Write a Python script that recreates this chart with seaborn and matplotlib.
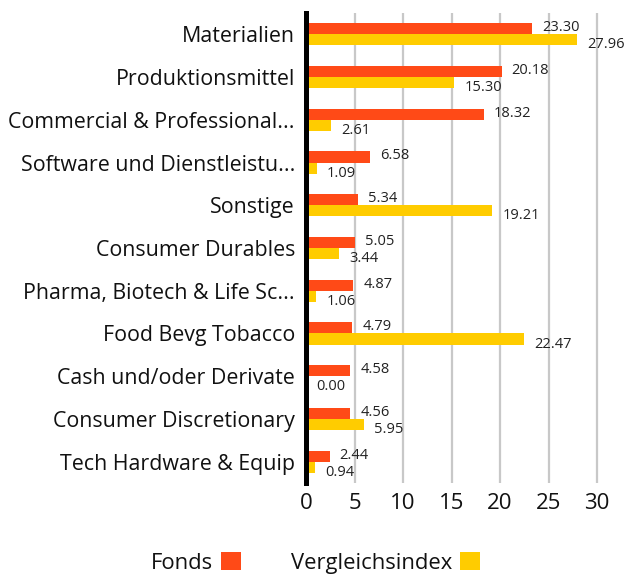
import matplotlib
matplotlib.use("Agg")
import matplotlib.pyplot as plt
import seaborn as sns
import pandas as pd
from matplotlib.patches import Patch

categories = [
    "Materialien",
    "Produktionsmittel",
    "Commercial & Professional...",
    "Software und Dienstleistu...",
    "Sonstige",
    "Consumer Durables",
    "Pharma, Biotech & Life Sc...",
    "Food Bevg Tobacco",
    "Cash und/oder Derivate",
    "Consumer Discretionary",
    "Tech Hardware & Equip",
]
fonds = [23.30, 20.18, 18.32, 6.58, 5.34, 5.05, 4.87, 4.79, 4.58, 4.56, 2.44]
vergleich = [27.96, 15.30, 2.61, 1.09, 19.21, 3.44, 1.06, 22.47, 0.00, 5.95, 0.94]
series_names = ["Fonds", "Vergleichsindex"]
colors = ["#FF4A17", "#FFCC00"]
x_ticks = [0, 5, 10, 15, 20, 25, 30]

df = pd.DataFrame({"Kategorie": categories, series_names[0]: fonds, series_names[1]: vergleich})
long = df.melt(id_vars="Kategorie", var_name="Serie", value_name="Wert")

sns.set_theme(style="white")
plt.rcParams["font.family"] = ["Open Sans", "DejaVu Sans"]

fig = plt.figure(figsize=(6.25, 5.79), dpi=100)
ax = fig.add_axes([306 / 625, 1 - 483 / 579, (612 - 306) / 625, (483 - 13) / 579])

sns.barplot(data=long, y="Kategorie", x="Wert", hue="Serie", order=categories,
            hue_order=series_names, palette=colors, orient="h", width=0.52,
            saturation=1, ax=ax, legend=False, linewidth=0)

ax.set_xlim(0, (612 - 306) / 9.7)
ax.set_xticks(x_ticks)
ax.set_xticklabels([str(t) for t in x_ticks], fontsize=16, color="#111111")
ax.set_ylim(len(categories) - 0.5, -0.5)
ax.tick_params(axis="y", labelsize=15.4, colors="#111111", length=0, pad=8)
ax.tick_params(axis="x", length=0, pad=7)
ax.set_xlabel("")
ax.set_ylabel("")

ax.grid(axis="x", color="#c8c8c8", linewidth=1.6)
ax.set_axisbelow(True)
for s in ["top", "right", "bottom"]:
    ax.spines[s].set_visible(False)
ax.spines["left"].set_color("black")
ax.spines["left"].set_linewidth(3.6)
ax.spines["left"].set_zorder(5)

offsets = [(10, 1), (10, -5)]
for cont, (dx, dy) in zip(ax.containers, offsets):
    for patch in cont:
        w = patch.get_width()
        yc = patch.get_y() + patch.get_height() / 2
        ax.annotate(f"{w:.2f}", xy=(w, yc), xytext=(dx, dy), textcoords="offset pixels",
                    ha="left", va="center", fontsize=10.5, color="#222222",
                    annotation_clip=False)

handles = [Patch(facecolor=c, edgecolor="none") for c in colors]
fig.legend(handles, series_names, loc="center", bbox_to_anchor=(0.505, 1 - 563 / 579),
           ncol=2, markerfirst=False, frameon=False, fontsize=15.8,
           handlelength=0.9, handleheight=0.9, handletextpad=0.35, columnspacing=2.3,
           labelcolor="#111111")

fig.savefig("out.png", dpi=100)
